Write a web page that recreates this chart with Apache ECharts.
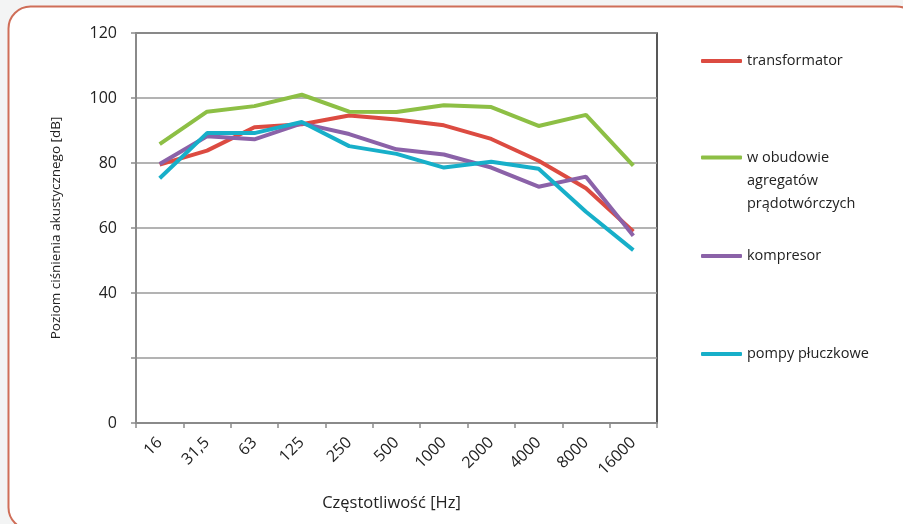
<!DOCTYPE html>
<html>
<head>
<meta charset="utf-8">
<script src="https://cdn.jsdelivr.net/npm/echarts@6/dist/echarts.min.js"></script>
<style>
html,body{margin:0;padding:0;background:#f3f4f4;}
#c{width:903px;height:524px;}
</style>
</head>
<body>
<div id="c"></div>
<script>
var categories = ['16','31,5','63','125','250','500','1000','2000','4000','8000','16000'];
var transformator = [79.5, 83.8, 91.0, 91.9, 94.6, 93.4, 91.6, 87.4, 80.7, 72.2, 58.9];
var obudowa = [85.8, 95.8, 97.5, 101.0, 95.8, 95.7, 97.8, 97.2, 91.4, 94.8, 79.2];
var kompresor = [79.7, 88.2, 87.3, 92.2, 88.9, 84.2, 82.6, 78.6, 72.7, 75.8, 57.6];
var pompy = [75.3, 89.2, 89.2, 92.6, 85.2, 82.8, 78.6, 80.4, 78.2, 65.0, 53.2];
var seriesNames = ['transformator', 'w obudowie\nagregatów\nprądotwórczych', 'kompresor', 'pompy płuczkowe'];
var colors = ['#dc4b41', '#8dbf45', '#8b62a8', '#17afc9'];
var yTicks = [0, 20, 40, 60, 80, 100, 120];

var FONT = '"Open Sans", "Noto Sans", sans-serif';
var chart = echarts.init(document.getElementById('c'), null, {renderer: 'canvas'});

function mkLegend(i, top, extra, fmt) {
  var ts = {fontFamily: FONT, fontSize: 14.5, color: '#222', lineHeight: 20};
  if (extra) { for (var k in extra) ts[k] = extra[k]; }
  var l = {
    left: 701, top: top, orient: 'vertical', padding: 0,
    icon: 'roundRect', itemWidth: 41, itemHeight: 4,
    data: [{name: seriesNames[i], itemStyle: {color: colors[i]}}],
    textStyle: ts,
    selectedMode: false
  };
  if (fmt) l.formatter = fmt;
  return l;
}

var datasets = [transformator, obudowa, kompresor, pompy];

chart.setOption({
  backgroundColor: 'transparent',
  animation: false,
  graphic: [{
    type: 'rect', z: -10,
    shape: {x: 8.5, y: 6.5, width: 910, height: 523, r: 22},
    style: {fill: '#ffffff', stroke: '#cf6e58', lineWidth: 2}
  }],
  legend: [
    mkLegend(0, 51),
    mkLegend(1, 100, {lineHeight: 23}, function (n) { return '\n\n' + n; }),
    mkLegend(2, 246),
    mkLegend(3, 344)
  ],
  grid: {
    left: 136, top: 33, right: 246, bottom: 101,
    show: true, borderColor: '#222', borderWidth: 1.5, backgroundColor: 'transparent'
  },
  xAxis: {
    type: 'category', data: categories, boundaryGap: true,
    name: 'Częstotliwość [Hz]', nameLocation: 'middle', nameGap: 72,
    nameTextStyle: {fontFamily: FONT, fontSize: 16.5, color: '#222', padding: [0, 10, 0, 0]},
    axisLine: {lineStyle: {color: '#8a8a8a', width: 2}},
    axisTick: {show: true, length: 5, alignWithLabel: false, lineStyle: {color: '#8a8a8a', width: 1.5}},
    axisLabel: {rotate: 45, interval: 0, margin: 17, fontFamily: FONT, fontSize: 16, color: '#222'},
    splitLine: {show: false}
  },
  yAxis: {
    type: 'value', min: 0, max: 120, interval: 20,
    name: 'Poziom ciśnienia akustycznego [dB]', nameLocation: 'middle', nameGap: 73,
    nameTextStyle: {fontFamily: FONT, fontSize: 13.5, color: '#222'},
    axisLine: {show: true, lineStyle: {color: '#8a8a8a', width: 2}},
    axisTick: {show: true, length: 5, lineStyle: {color: '#8a8a8a', width: 1.5}},
    axisLabel: {
      margin: 19, fontFamily: FONT, fontSize: 16, color: '#222',
      formatter: function (v) { return (yTicks.indexOf(v) >= 0 && v !== 20) ? String(v) : ''; }
    },
    splitLine: {show: true, lineStyle: {color: '#9a9a9a', width: 1.5}}
  },
  series: datasets.map(function (d, i) {
    return {
      name: seriesNames[i], type: 'line', data: d,
      showSymbol: false, symbol: 'none',
      lineStyle: {color: colors[i], width: 4},
      itemStyle: {color: colors[i]}
    };
  })
});
</script>
</body>
</html>
